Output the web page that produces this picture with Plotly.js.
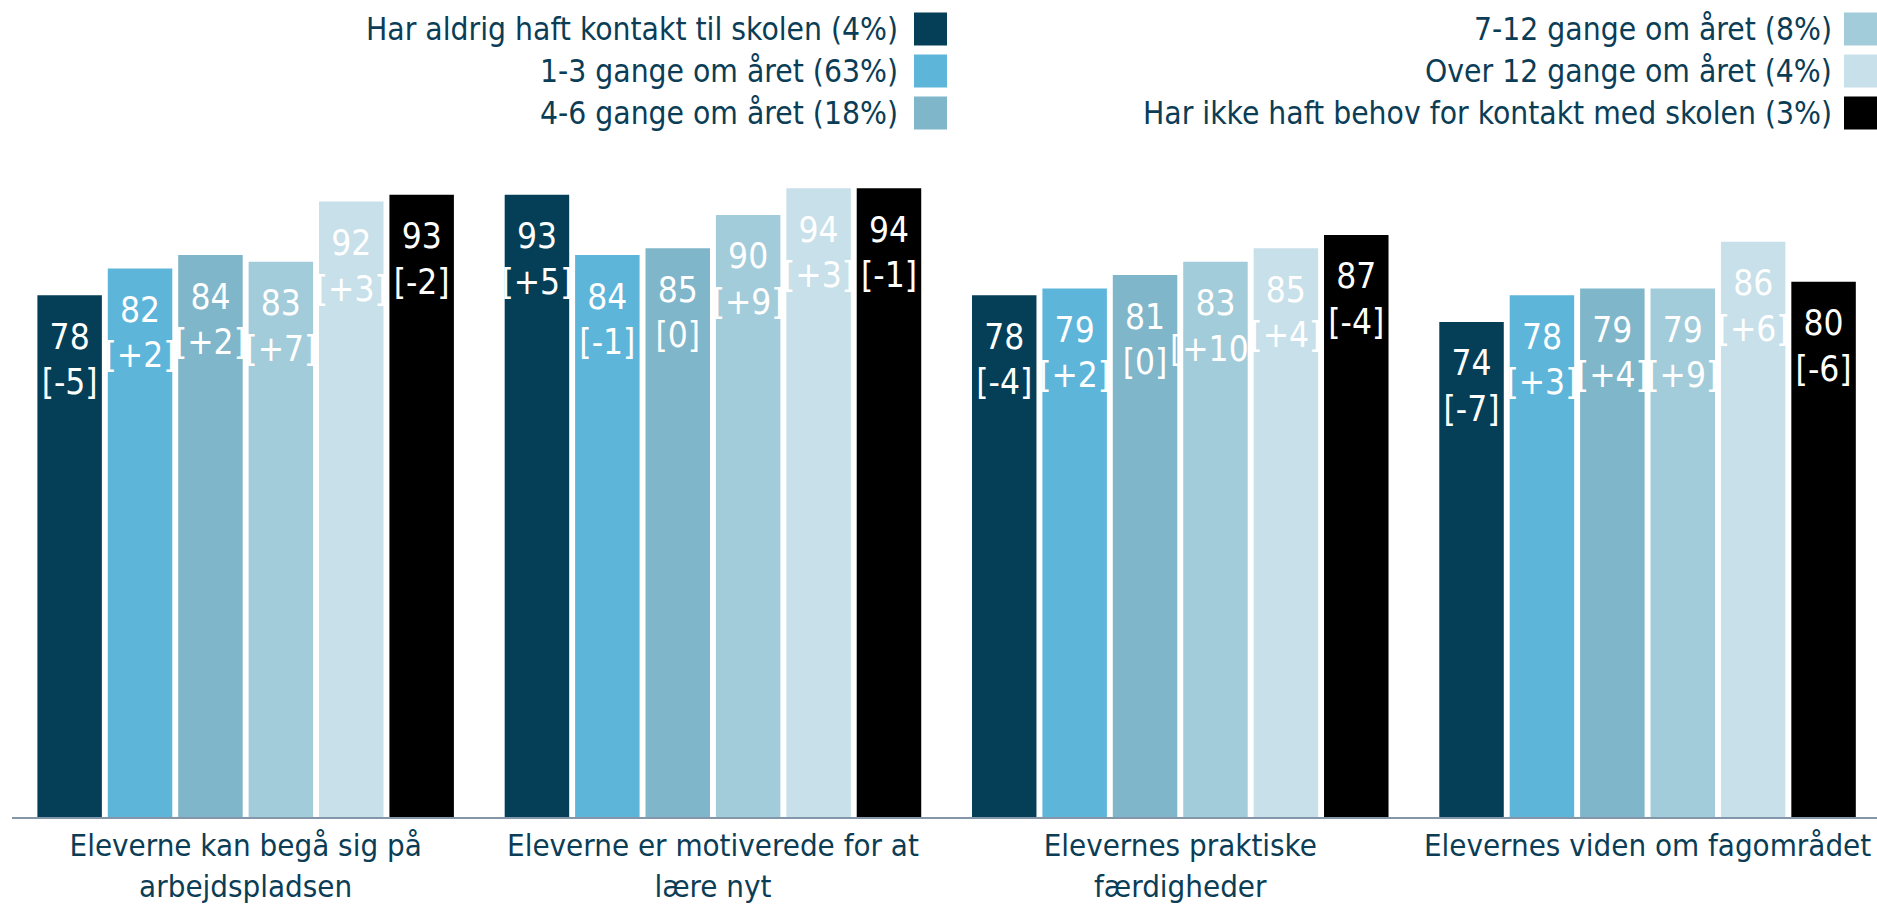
<!DOCTYPE html>
<html>
<head>
<meta charset="utf-8">
<script src="https://cdn.plot.ly/plotly-3.0.1.min.js"></script>
<style>
html, body { margin: 0; padding: 0; background: #ffffff; }
#chart { width: 1877px; height: 904px; }
</style>
</head>
<body>
<div id="chart"></div>
<script>
// ---------- data ----------
const categories = [
  "Eleverne kan begå sig på<br>arbejdspladsen",
  "Eleverne er motiverede for at<br>lære nyt",
  "Elevernes praktiske<br>færdigheder",
  "Elevernes viden om fagområdet"
];

const seriesNames = [
  "Har aldrig haft kontakt til skolen (4%)",
  "1-3 gange om året (63%)",
  "4-6 gange om året (18%)",
  "7-12 gange om året (8%)",
  "Over 12 gange om året (4%)",
  "Har ikke haft behov for kontakt med skolen (3%)"
];

const neverValues      = [78, 93, 78, 74];
const times1to3Values  = [82, 84, 79, 78];
const times4to6Values  = [84, 85, 81, 79];
const times7to12Values = [83, 90, 83, 79];
const over12Values     = [92, 94, 85, 86];
const noNeedValues     = [93, 94, 87, 80];

const neverDeltas      = ["-5", "+5", "-4", "-7"];
const times1to3Deltas  = ["+2", "-1", "+2", "+3"];
const times4to6Deltas  = ["+2", "0", "0", "+4"];
const times7to12Deltas = ["+7", "+9", "+10", "+9"];
const over12Deltas     = ["+3", "+3", "+4", "+6"];
const noNeedDeltas     = ["-2", "-1", "-4", "-6"];

const seriesColors = ["#043F57", "#5DB5DA", "#7FB6CA", "#A3CCDA", "#C8E0E9", "#000000"];

// ---------- layout constants ----------
const W = 1877, H = 904;
const ML = 12, MR = 0, MT = 148, MB = 87;
const PW = W - ML - MR, PH = H - MT - MB;
const FONT = '"DejaVu Sans Condensed", "DejaVu Sans", sans-serif';
const TEXT_COLOR = "#0B3D56";

const allValues = [neverValues, times1to3Values, times4to6Values, times7to12Values, over12Values, noNeedValues];
const allDeltas = [neverDeltas, times1to3Deltas, times4to6Deltas, times7to12Deltas, over12Deltas, noNeedDeltas];

const traces = allValues.map((vals, i) => ({
  type: "bar",
  name: seriesNames[i],
  x: categories,
  y: vals,
  marker: { color: seriesColors[i], line: { width: 0 } },
  text: vals.map((v, j) => '<span style="font-size:5px">&nbsp;</span><br>' + v + '<br>[' + allDeltas[i][j] + ']'),
  textposition: "inside",
  insidetextanchor: "end",
  constraintext: "none",
  textangle: 0,
  textfont: { family: FONT, size: 35, color: "#ffffff" },
  insidetextfont: { family: FONT, size: 35, color: "#ffffff" },
  hoverinfo: "skip",
  showlegend: false
}));

// legend drawn as shapes + annotations (swatch to the right of the text)
const px2x = p => (p - ML) / PW;
const py2y = p => (H - MB - p) / PH;
const legendRowsY = [29, 71, 113];
const legendCols = [
  { textRight: 900, boxLeft: 914 },
  { textRight: 1834, boxLeft: 1844 }
];
const SW = 33;
const shapes = [];
const annotations = [];
seriesNames.forEach((name, i) => {
  const col = legendCols[Math.floor(i / 3)];
  const cy = legendRowsY[i % 3];
  shapes.push({
    type: "rect", xref: "paper", yref: "paper",
    x0: px2x(col.boxLeft), x1: px2x(col.boxLeft + SW),
    y0: py2y(cy + SW / 2), y1: py2y(cy - SW / 2),
    fillcolor: seriesColors[i], line: { width: 0 }
  });
  annotations.push({
    xref: "paper", yref: "paper",
    x: px2x(col.textRight), y: py2y(cy),
    xanchor: "right", yanchor: "middle",
    text: name, showarrow: false,
    font: { family: FONT, size: 31.5, color: TEXT_COLOR }
  });
});

const layout = {
  width: W, height: H,
  margin: { l: ML, r: MR, t: MT, b: MB, pad: 0 },
  paper_bgcolor: "#ffffff",
  plot_bgcolor: "#ffffff",
  barmode: "group",
  bargap: 0.096,
  bargroupgap: 0.084,
  showlegend: false,
  hovermode: false,
  xaxis: {
    type: "category",
    range: [-0.5, 3.491],
    showline: true, linecolor: "#8497AA", linewidth: 2,
    showgrid: false, zeroline: false,
    ticks: "",
    tickfont: { family: FONT, size: 31, color: TEXT_COLOR },
    fixedrange: true
  },
  yaxis: {
    range: [0, 100],
    visible: false,
    showgrid: false, zeroline: false,
    fixedrange: true
  },
  shapes: shapes,
  annotations: annotations,
  font: { family: FONT, color: TEXT_COLOR }
};

Plotly.newPlot("chart", traces, layout, { displayModeBar: false, staticPlot: true });
</script>
</body>
</html>
